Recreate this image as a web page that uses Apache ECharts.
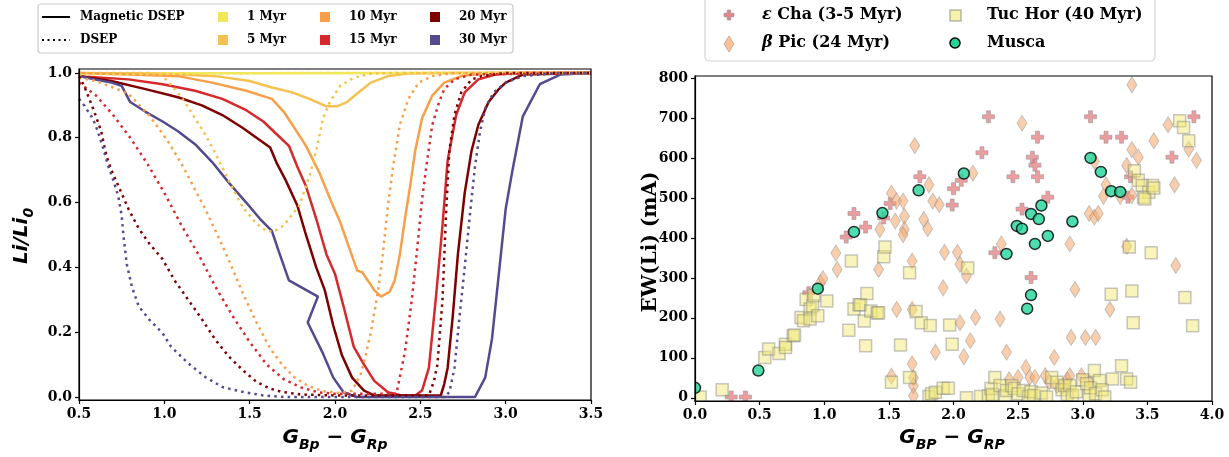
<!DOCTYPE html>
<html>
<head>
<meta charset="utf-8">
<script src="https://cdn.jsdelivr.net/npm/echarts@6/dist/echarts.min.js"></script>
<style>
  html, body { margin: 0; padding: 0; background: #ffffff; }
  #chart { width: 1229px; height: 457px; }
</style>
</head>
<body>
<div id="chart"></div>
<script>
// ---------- Lithium depletion curves: [G_Bp - G_Rp, Li/Li0] ----------
const ageLabels = ['1 Myr', '5 Myr', '10 Myr', '15 Myr', '20 Myr', '30 Myr'];
const ageColors = ['#f1e75a', '#f5c14f', '#f89f4a', '#d6292b', '#7e0000', '#544a8d'];

// Magnetic DSEP models (solid)
const magnetic1 = [[0.5, 0.999], [1.5, 0.999], [2.5, 1.0], [3.5, 1.0]];
const magnetic5 = [[0.5, 1.0], [1.0, 0.997], [1.3, 0.99], [1.5, 0.975], [1.63, 0.955], [1.75, 0.94], [1.85, 0.92],
  [1.95, 0.897], [2.01, 0.897], [2.07, 0.91], [2.15, 0.945], [2.21, 0.97], [2.31, 0.99], [2.43, 0.998], [2.6, 1.0], [3.5, 1.0]];
const magnetic10 = [[0.5, 1.0], [0.79, 0.995], [1.08, 0.99], [1.28, 0.97], [1.48, 0.945], [1.63, 0.92], [1.7, 0.88],
  [1.75, 0.84], [1.83, 0.775], [1.91, 0.69], [1.98, 0.6], [2.03, 0.54], [2.09, 0.45], [2.13, 0.39], [2.16, 0.385],
  [2.23, 0.33], [2.27, 0.31], [2.32, 0.325], [2.35, 0.36], [2.38, 0.44], [2.41, 0.55], [2.44, 0.65], [2.47, 0.76],
  [2.51, 0.86], [2.57, 0.93], [2.64, 0.97], [2.74, 0.99], [2.9, 1.0], [3.5, 1.0]];
const magnetic15 = [[0.5, 0.99], [0.79, 0.98], [0.99, 0.965], [1.18, 0.945], [1.34, 0.92], [1.48, 0.885], [1.58, 0.85],
  [1.66, 0.81], [1.73, 0.775], [1.78, 0.71], [1.83, 0.65], [1.89, 0.55], [1.95, 0.44], [2.0, 0.38], [2.05, 0.28],
  [2.11, 0.155], [2.17, 0.1], [2.23, 0.05], [2.31, 0.015], [2.39, 0.005], [2.47, 0.005], [2.51, 0.02], [2.55, 0.09],
  [2.59, 0.3], [2.63, 0.53], [2.66, 0.73], [2.71, 0.87], [2.76, 0.94], [2.84, 0.98], [2.94, 0.995], [3.1, 1.0], [3.5, 1.0]];
const magnetic20 = [[0.5, 0.99], [0.69, 0.975], [0.89, 0.95], [1.08, 0.925], [1.22, 0.9], [1.34, 0.87], [1.46, 0.83],
  [1.54, 0.8], [1.62, 0.77], [1.66, 0.72], [1.71, 0.67], [1.78, 0.59], [1.83, 0.5], [1.89, 0.4], [1.94, 0.33],
  [1.99, 0.22], [2.04, 0.13], [2.1, 0.06], [2.17, 0.02], [2.23, 0.005], [2.62, 0.005], [2.64, 0.04], [2.66, 0.09],
  [2.69, 0.25], [2.72, 0.44], [2.76, 0.63], [2.8, 0.76], [2.84, 0.84], [2.9, 0.91], [2.96, 0.95], [3.0, 0.97],
  [3.1, 0.995], [3.5, 1.0]];
const magnetic30 = [[0.5, 0.99], [0.59, 0.98], [0.69, 0.97], [0.75, 0.96], [0.8, 0.91], [0.89, 0.88], [0.99, 0.85],
  [1.08, 0.82], [1.18, 0.78], [1.28, 0.725], [1.38, 0.66], [1.48, 0.6], [1.56, 0.55], [1.63, 0.513], [1.67, 0.45],
  [1.73, 0.36], [1.9, 0.31], [1.84, 0.23], [1.93, 0.134], [1.99, 0.06], [2.05, 0.015], [2.13, 0.0], [2.82, 0.0],
  [2.88, 0.06], [2.92, 0.18], [2.96, 0.38], [3.0, 0.58], [3.04, 0.7], [3.1, 0.865], [3.2, 0.965], [3.32, 0.995], [3.5, 1.0]];

// Standard DSEP models (dotted)
const standard1 = [[0.5, 0.995], [1.0, 0.997], [1.5, 0.999], [2.0, 1.0], [3.5, 1.0]];
const standard5 = [[0.5, 1.0], [0.9, 1.0], [0.97, 0.995], [1.01, 0.98], [1.07, 0.945], [1.12, 0.91], [1.18, 0.86],
  [1.24, 0.81], [1.32, 0.73], [1.38, 0.665], [1.46, 0.585], [1.54, 0.535], [1.6, 0.512], [1.64, 0.51], [1.7, 0.53],
  [1.79, 0.59], [1.85, 0.68], [1.89, 0.76], [1.93, 0.86], [1.97, 0.91], [2.03, 0.96], [2.11, 0.985], [2.21, 0.998],
  [2.4, 1.0], [3.5, 1.0]];
const standard10 = [[0.5, 0.985], [0.6, 0.975], [0.7, 0.955], [0.79, 0.935], [0.91, 0.87], [1.02, 0.79], [1.1, 0.72],
  [1.18, 0.64], [1.24, 0.58], [1.32, 0.49], [1.38, 0.42], [1.46, 0.32], [1.54, 0.23], [1.62, 0.15], [1.69, 0.1],
  [1.76, 0.062], [1.84, 0.035], [1.93, 0.018], [2.03, 0.012], [2.1, 0.02], [2.15, 0.07], [2.18, 0.13], [2.21, 0.2],
  [2.25, 0.32], [2.28, 0.44], [2.31, 0.59], [2.34, 0.71], [2.38, 0.84], [2.43, 0.92], [2.49, 0.97], [2.57, 0.99],
  [2.7, 1.0], [3.5, 1.0]];
const standard15 = [[0.5, 0.97], [0.6, 0.93], [0.7, 0.87], [0.8, 0.8], [0.9, 0.72], [1.0, 0.63], [1.1, 0.53], [1.2, 0.44],
  [1.3, 0.34], [1.4, 0.25], [1.5, 0.17], [1.6, 0.1], [1.7, 0.055], [1.8, 0.03], [1.9, 0.015], [2.0, 0.01], [2.36, 0.01],
  [2.41, 0.14], [2.45, 0.3], [2.48, 0.45], [2.51, 0.61], [2.54, 0.73], [2.57, 0.84], [2.61, 0.91], [2.64, 0.95],
  [2.7, 0.98], [2.8, 0.995], [3.5, 1.0]];
const standard20 = [[0.5, 0.99], [0.53, 0.96], [0.56, 0.92], [0.59, 0.88], [0.63, 0.82], [0.66, 0.745], [0.69, 0.7],
  [0.74, 0.64], [0.79, 0.58], [0.85, 0.52], [0.91, 0.475], [0.99, 0.425], [1.06, 0.36], [1.14, 0.3], [1.22, 0.24],
  [1.3, 0.176], [1.38, 0.124], [1.46, 0.083], [1.54, 0.047], [1.62, 0.026], [1.69, 0.016], [1.8, 0.008], [2.0, 0.005],
  [2.55, 0.005], [2.58, 0.05], [2.6, 0.1], [2.63, 0.3], [2.65, 0.56], [2.67, 0.76], [2.7, 0.87], [2.74, 0.94],
  [2.8, 0.98], [2.86, 0.99], [3.0, 1.0], [3.5, 1.0]];
const standard30 = [[0.5, 0.92], [0.53, 0.9], [0.58, 0.86], [0.61, 0.82], [0.64, 0.77], [0.67, 0.715], [0.7, 0.67],
  [0.73, 0.62], [0.75, 0.56], [0.76, 0.5], [0.78, 0.41], [0.81, 0.34], [0.85, 0.28], [0.91, 0.24], [0.99, 0.197],
  [1.04, 0.155], [1.14, 0.104], [1.24, 0.062], [1.34, 0.031], [1.46, 0.016], [1.58, 0.005], [1.7, 0.0], [2.64, 0.0],
  [2.67, 0.015], [2.7, 0.09], [2.73, 0.25], [2.76, 0.4], [2.79, 0.56], [2.82, 0.71], [2.85, 0.82], [2.88, 0.89],
  [2.93, 0.94], [3.0, 0.97], [3.1, 0.99], [3.3, 1.0], [3.5, 1.0]];

const magneticModels = [magnetic1, magnetic5, magnetic10, magnetic15, magnetic20, magnetic30];
const standardModels = [standard1, standard5, standard10, standard15, standard20, standard30];

// ---------- EW(Li) of young associations: [G_BP - G_RP, EW (mA)] ----------
const epsCha = [[0.28, 2], [0.39, 2], [0.88, 263], [1.17, 402], [1.23, 461], [1.32, 427], [1.46, 450], [1.51, 486],
  [1.74, 553], [1.99, 482], [2.0, 523], [2.06, 544], [2.22, 613], [2.27, 703], [2.32, 363], [2.46, 553], [2.53, 472],
  [2.6, 301], [2.61, 602], [2.63, 582], [2.65, 553], [2.65, 652], [2.73, 502], [3.06, 703], [3.18, 652], [3.3, 652],
  [3.37, 553], [3.35, 502], [3.69, 602], [3.86, 703]];

const betaPic = [[0.97, 288], [0.99, 298], [1.09, 362], [1.1, 321], [1.42, 321], [1.43, 421], [1.52, 512], [1.55, 442],
  [1.56, 492], [1.61, 492], [1.62, 454], [1.62, 421], [1.61, 408], [1.52, 54], [1.56, 221], [1.68, 342], [1.68, 221],
  [1.68, 85], [1.69, 50], [1.69, 30], [1.69, 5], [1.7, 631], [1.77, 446], [1.8, 423], [1.81, 533], [1.84, 492],
  [1.89, 483], [1.86, 114], [1.92, 275], [1.93, 364], [2.03, 364], [2.05, 334], [2.1, 305], [2.05, 188], [2.08, 103],
  [2.13, 143], [2.15, 562], [2.17, 201], [2.36, 197], [2.37, 385], [2.41, 114], [2.43, 45], [2.5, 51], [2.53, 687],
  [2.56, 76], [2.59, 51], [2.63, 51], [2.71, 55], [2.74, 40], [2.78, 101], [2.8, 31], [2.84, 28], [2.88, 45],
  [2.9, 55], [2.9, 385], [2.91, 151], [2.94, 271], [2.99, 55], [3.02, 151], [3.05, 461], [3.05, 40], [3.09, 452],
  [3.09, 592], [3.1, 151], [3.12, 461], [3.16, 504], [3.18, 533], [3.21, 221], [3.29, 504], [3.34, 581], [3.34, 379],
  [3.38, 621], [3.38, 783], [3.38, 506], [3.43, 602], [3.55, 643], [3.66, 683], [3.71, 533], [3.72, 331], [3.82, 622],
  [3.88, 594]];

const tucHor = [[0.04, 2], [0.21, 20], [0.54, 101], [0.57, 122], [0.65, 111], [0.7, 134], [0.7, 126], [0.76, 155],
  [0.77, 157], [0.82, 201], [0.84, 193], [0.86, 246], [0.89, 222], [0.89, 197], [0.91, 230], [0.92, 256], [0.95, 205],
  [1.02, 242], [1.19, 169], [1.21, 342], [1.23, 222], [1.27, 233], [1.28, 233], [1.31, 192], [1.32, 130], [1.33, 261],
  [1.36, 217], [1.41, 212], [1.42, 213], [1.46, 353], [1.47, 377], [1.59, 132], [1.66, 313], [1.71, 216], [1.75, 188],
  [1.82, 181], [1.97, 182], [1.99, 134], [2.11, 325],
  [1.52, 39], [1.66, 51], [1.81, 3], [1.83, 10], [1.86, 14], [1.92, 24], [1.96, 24], [2.1, 0], [2.21, 3], [2.27, 5],
  [2.29, 23], [2.3, 8], [2.32, 51], [2.36, 31], [2.4, 5], [2.41, 18], [2.45, 30], [2.47, 23], [2.5, 10], [2.54, 18],
  [2.58, 3], [2.6, 15], [2.62, 6], [2.68, 12], [2.72, 2], [2.76, 51], [2.8, 39], [2.84, 20], [2.86, 31], [2.88, 8],
  [2.9, 31], [2.92, 6], [2.95, 15], [3.0, 45], [3.03, 35], [3.05, 5], [3.06, 25], [3.09, 68], [3.1, 10], [3.13, 43],
  [3.15, 20], [3.17, 2], [3.23, 47], [3.3, 80], [3.34, 47], [3.37, 39],
  [3.22, 259], [3.36, 377], [3.38, 267], [3.39, 188], [3.53, 363], [3.79, 251], [3.85, 180], [3.4, 568], [3.43, 544],
  [3.46, 531], [3.51, 514], [3.47, 502], [3.48, 497], [3.54, 531], [3.55, 525], [3.75, 693], [3.78, 676], [3.82, 643]];

const musca = [[0.0, 25], [0.49, 68], [0.95, 273], [1.23, 415], [1.45, 462], [1.73, 519], [2.08, 561], [2.41, 360],
  [2.49, 430], [2.53, 423], [2.57, 223], [2.6, 257], [2.6, 460], [2.63, 385], [2.66, 447], [2.68, 481], [2.73, 405],
  [2.92, 441], [3.06, 600], [3.14, 565], [3.22, 517], [3.29, 515]];

// ---------- tick values ----------
const liTicks = [0.0, 0.2, 0.4, 0.6, 0.8, 1.0];
const ewTicks = [0, 100, 200, 300, 400, 500, 600, 700, 800];

const serif = '"DejaVu Serif", "Liberation Serif", serif';
const sans = '"DejaVu Sans", sans-serif';
const tickFont = { fontFamily: serif, fontWeight: 'bold', fontSize: 14, color: '#000' };
const plusPath = 'path://M4,0L8,0L8,4L12,4L12,8L8,8L8,12L4,12L4,8L0,8L0,4L4,4Z';

// plot areas (pixels)
const leftBox = { left: 79, top: 69, width: 512, height: 331 };
const rightBox = { left: 695, top: 76, width: 517, height: 325 };

const chart = echarts.init(document.getElementById('chart'), null, { renderer: 'canvas' });

const axisCommon = {
  type: 'value',
  z: 10,
  axisLine: { show: true, onZero: false, lineStyle: { color: '#000', width: 1.2 } },
  axisTick: { show: true, inside: false, length: 4, lineStyle: { color: '#000', width: 1.2 } },
  splitLine: { show: false },
  axisLabel: Object.assign({ margin: 7 }, tickFont)
};

const series = [];
magneticModels.forEach((d, i) => {
  series.push({
    type: 'line', xAxisIndex: 0, yAxisIndex: 0, data: d, showSymbol: false, symbol: 'none',
    lineStyle: { color: ageColors[i], width: 2.5, type: 'solid' }, z: 3
  });
});
standardModels.forEach((d, i) => {
  series.push({
    type: 'line', xAxisIndex: 0, yAxisIndex: 0, data: d, showSymbol: false, symbol: 'none',
    lineStyle: { color: ageColors[i], width: 2.5, type: [2.5, 4.2] }, z: 3
  });
});

series.push({
  name: 'ε Cha (3-5 Myr)', type: 'scatter', xAxisIndex: 1, yAxisIndex: 1, data: epsCha,
  symbol: plusPath, symbolSize: 12,
  itemStyle: { color: 'rgba(226,112,114,0.85)', borderColor: 'rgba(150,150,150,0.7)', borderWidth: 1 }, z: 2
});
series.push({
  name: 'β Pic (24 Myr)', type: 'scatter', xAxisIndex: 1, yAxisIndex: 1, data: betaPic,
  symbol: 'diamond', symbolSize: [10, 16],
  itemStyle: { color: 'rgba(245,168,108,0.7)', borderColor: 'rgba(140,140,140,0.55)', borderWidth: 1 }, z: 3
});
series.push({
  name: 'Tuc Hor (40 Myr)', type: 'scatter', xAxisIndex: 1, yAxisIndex: 1, data: tucHor,
  symbol: 'rect', symbolSize: 12,
  itemStyle: { color: 'rgba(240,232,115,0.6)', borderColor: 'rgba(130,130,130,0.55)', borderWidth: 1.5 }, z: 4
});
series.push({
  name: 'Musca', type: 'scatter', xAxisIndex: 1, yAxisIndex: 1, data: musca,
  symbol: 'circle', symbolSize: 11,
  itemStyle: { color: '#20d49a', borderColor: '#000', borderWidth: 1.5 }, z: 5
});

// ---------- masks that trim markers at the plot edges ----------
const graphics = [
  { type: 'rect', z: 8, silent: true,
    shape: { x: rightBox.left - 40, y: rightBox.top - 20, width: 40, height: rightBox.height + 40 },
    style: { fill: '#fff' } },
  { type: 'rect', z: 8, silent: true,
    shape: { x: rightBox.left - 40, y: rightBox.top + rightBox.height, width: rightBox.width + 60, height: 16 },
    style: { fill: '#fff' } }
];

// ---------- legends and axis titles ----------
const legendFont = 'bold 12px ' + serif;
graphics.push(
  { type: 'rect', shape: { x: 38, y: 4, width: 475, height: 49, r: 3 },
    style: { fill: '#fff', stroke: '#cccccc', lineWidth: 1.2 } },
  { type: 'line', shape: { x1: 42, y1: 17, x2: 70, y2: 17 }, style: { stroke: '#000', lineWidth: 2 } },
  { type: 'line', shape: { x1: 42, y1: 40, x2: 70, y2: 40 }, style: { stroke: '#000', lineWidth: 2, lineDash: [2, 3.5] } },
  { type: 'text', x: 80, y: 17, style: { text: 'Magnetic DSEP', font: legendFont, fill: '#000', verticalAlign: 'middle' } },
  { type: 'text', x: 80, y: 40, style: { text: 'DSEP', font: legendFont, fill: '#000', verticalAlign: 'middle' } }
);
const legendCols = [223, 223, 325, 325, 435, 435];
const legendRows = [17, 40, 17, 40, 17, 40];
ageLabels.forEach((lab, i) => {
  graphics.push({ type: 'rect', shape: { x: legendCols[i] - 5, y: legendRows[i] - 5, width: 10, height: 10 },
    style: { fill: ageColors[i] } });
  graphics.push({ type: 'text', x: legendCols[i] + 24, y: legendRows[i],
    style: { text: lab, font: legendFont, fill: '#000', verticalAlign: 'middle' } });
});

// right legend
const rFont = 'bold 16px ' + serif;
const greekRich = { g: { fontFamily: serif, fontWeight: 'bold', fontStyle: 'italic', fontSize: 16 } };
graphics.push(
  { type: 'rect', shape: { x: 705, y: -6, width: 450, height: 67, r: 4 },
    style: { fill: '#fff', stroke: '#d4d4d4', lineWidth: 1.2 } },
  { type: 'polygon', shape: { points: [[727.3, 10], [730.7, 10], [730.7, 13.3], [734, 13.3], [734, 16.7], [730.7, 16.7],
      [730.7, 20], [727.3, 20], [727.3, 16.7], [724, 16.7], [724, 13.3], [727.3, 13.3]] },
    style: { fill: 'rgba(226,112,114,0.85)', stroke: 'rgba(150,150,150,0.7)', lineWidth: 1 } },
  { type: 'polygon', shape: { points: [[729, 36], [734, 44], [729, 52], [724, 44]] },
    style: { fill: 'rgba(245,168,108,0.7)', stroke: 'rgba(140,140,140,0.55)', lineWidth: 1 } },
  { type: 'rect', shape: { x: 950, y: 10, width: 11, height: 11 },
    style: { fill: 'rgba(240,232,115,0.6)', stroke: 'rgba(130,130,130,0.55)', lineWidth: 1.5 } },
  { type: 'circle', shape: { cx: 955, cy: 43, r: 5 },
    style: { fill: '#20d49a', stroke: '#000', lineWidth: 1.5 } },
  { type: 'text', x: 762, y: 15, style: { text: '{g|ε} Cha (3-5 Myr)', font: rFont, fill: '#000', verticalAlign: 'middle',
      rich: greekRich } },
  { type: 'text', x: 762, y: 43, style: { text: '{g|β} Pic (24 Myr)', font: rFont, fill: '#000', verticalAlign: 'middle',
      rich: greekRich } },
  { type: 'text', x: 987, y: 15, style: { text: 'Tuc Hor (40 Myr)', font: rFont, fill: '#000', verticalAlign: 'middle' } },
  { type: 'text', x: 987, y: 43, style: { text: 'Musca', font: rFont, fill: '#000', verticalAlign: 'middle' } }
);

// axis titles
const titleRich = {
  a: { fontFamily: sans, fontWeight: 'bold', fontStyle: 'italic', fontSize: 20, lineHeight: 28 },
  s: { fontFamily: sans, fontWeight: 'bold', fontStyle: 'italic', fontSize: 14, lineHeight: 14, verticalAlign: 'bottom' }
};
graphics.push(
  { type: 'text', x: 22, y: 236, rotation: Math.PI / 2,
    style: { text: '{a|Li/Li}{s|0}', rich: titleRich, fill: '#000', align: 'center', verticalAlign: 'middle' } },
  { type: 'text', x: 335, y: 438, z: 9,
    style: { text: '{a|G}{s|Bp}{a| − G}{s|Rp}', rich: titleRich, fill: '#000', align: 'center', verticalAlign: 'middle' } },
  { type: 'text', x: 952, y: 438, z: 9,
    style: { text: '{a|G}{s|BP}{a| − G}{s|RP}', rich: titleRich, fill: '#000', align: 'center', verticalAlign: 'middle' } },
  { type: 'text', x: 651, y: 242, rotation: Math.PI / 2, z: 9,
    style: { text: 'EW(Li) (mA)', font: 'bold 20px ' + serif, fill: '#000', align: 'center', verticalAlign: 'middle' } }
);

const option = {
  backgroundColor: '#ffffff',
  animation: false,
  grid: [
    Object.assign({ show: true, borderColor: '#000', borderWidth: 1.2, backgroundColor: 'transparent', z: 10 }, leftBox),
    Object.assign({ show: true, borderColor: '#000', borderWidth: 1.2, backgroundColor: 'transparent', z: 10 }, rightBox)
  ],
  xAxis: [
    Object.assign({}, axisCommon, { gridIndex: 0, min: 0.5, max: 3.5, interval: 0.5,
      axisLabel: Object.assign({}, axisCommon.axisLabel, { formatter: v => v.toFixed(1) }) }),
    Object.assign({}, axisCommon, { gridIndex: 1, min: 0, max: 4, interval: 0.5,
      axisLabel: Object.assign({}, axisCommon.axisLabel, { formatter: v => v.toFixed(1) }) })
  ],
  yAxis: [
    Object.assign({}, axisCommon, { gridIndex: 0, min: -0.009, max: 1.012,
      axisTick: Object.assign({}, axisCommon.axisTick, { customValues: liTicks }),
      axisLabel: Object.assign({}, axisCommon.axisLabel, { customValues: liTicks, formatter: v => v.toFixed(1) }) }),
    Object.assign({}, axisCommon, { gridIndex: 1, min: -8, max: 805,
      axisTick: Object.assign({}, axisCommon.axisTick, { customValues: ewTicks }),
      axisLabel: Object.assign({}, axisCommon.axisLabel, { customValues: ewTicks, formatter: v => String(v) }) })
  ],
  graphic: { elements: graphics },
  series: series
};

chart.setOption(option);
</script>
</body>
</html>
